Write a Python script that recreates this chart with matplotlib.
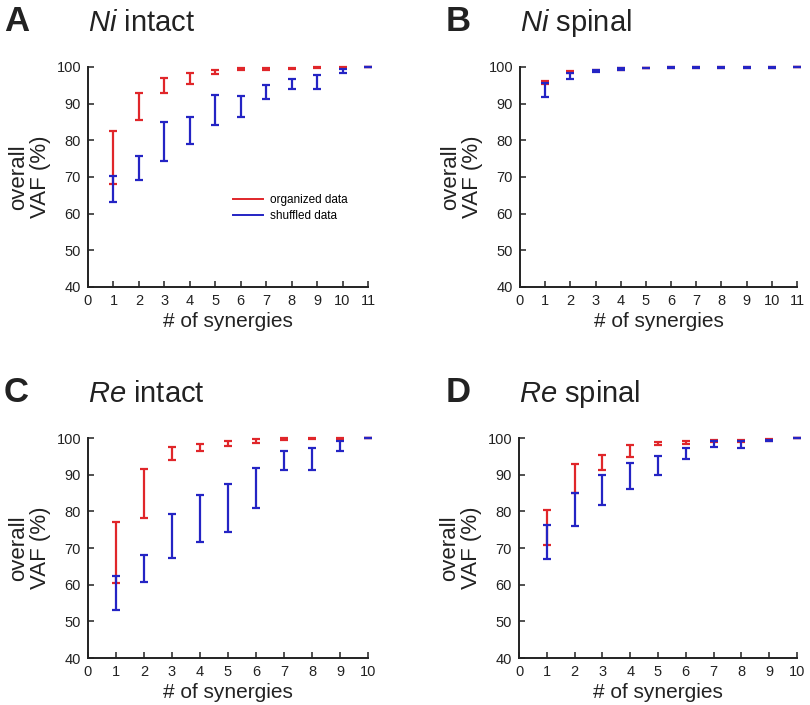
import matplotlib
matplotlib.use("Agg")
import matplotlib.pyplot as plt
from matplotlib.lines import Line2D
import numpy as np

plt.rcParams['font.family'] = ['Liberation Sans', 'DejaVu Sans']
plt.rcParams['mathtext.fontset'] = 'custom'
plt.rcParams['mathtext.rm'] = 'Liberation Sans'
plt.rcParams['mathtext.it'] = 'Liberation Sans:italic'

RED = '#e0262a'
BLUE = '#2424c4'

# ---- data: lower / upper bounds of VAF (%) per number of synergies ----
a_syn = [1, 2, 3, 4, 5, 6, 7, 8, 9, 10, 11]
a_org_lo = [68.2, 85.5, 93.0, 95.5, 98.0, 99.1, 99.3, 99.5, 99.6, 99.6, 100.0]
a_org_hi = [82.5, 92.9, 97.0, 98.4, 99.3, 99.6, 99.7, 99.8, 99.9, 99.9, 100.0]
a_shf_lo = [63.1, 69.3, 74.3, 79.1, 84.2, 86.4, 91.2, 94.0, 94.1, 98.5, 99.9]
a_shf_hi = [70.3, 75.8, 85.0, 86.5, 92.4, 92.1, 95.2, 96.6, 97.9, 99.5, 100.0]

b_syn = [1, 2, 3, 4, 5, 6, 7, 8, 9, 10, 11]
b_org_lo = [95.5, 98.3, 98.8, 99.2, 99.6, 99.7, 99.7, 99.7, 99.7, 99.7, 100.0]
b_org_hi = [96.1, 99.0, 99.3, 99.6, 99.8, 99.9, 99.9, 99.9, 99.9, 99.9, 100.0]
b_shf_lo = [91.9, 96.8, 98.7, 99.2, 99.6, 99.7, 99.8, 99.8, 99.8, 99.8, 100.0]
b_shf_hi = [95.6, 98.4, 99.3, 99.6, 99.8, 99.9, 99.9, 99.9, 99.9, 99.9, 100.0]

c_syn = [1, 2, 3, 4, 5, 6, 7, 8, 9, 10]
c_org_lo = [60.5, 78.3, 94.1, 96.5, 97.7, 98.6, 99.4, 99.8, 99.6, 100.0]
c_org_hi = [77.0, 91.5, 97.5, 98.5, 99.3, 99.7, 99.9, 100.0, 99.9, 100.0]
c_shf_lo = [53.0, 60.6, 67.4, 71.6, 74.4, 80.8, 91.2, 91.4, 96.5, 100.0]
c_shf_hi = [62.5, 68.0, 79.2, 84.5, 87.5, 91.7, 96.4, 97.3, 99.2, 100.0]

d_syn = [1, 2, 3, 4, 5, 6, 7, 8, 9, 10]
d_org_lo = [70.8, 85.1, 91.2, 94.9, 98.2, 98.4, 99.0, 98.9, 99.3, 100.0]
d_org_hi = [80.3, 92.9, 95.4, 98.0, 99.0, 99.2, 99.5, 99.4, 99.6, 100.0]
d_shf_lo = [67.0, 76.0, 81.6, 86.2, 90.0, 94.4, 97.6, 97.4, 99.1, 99.9]
d_shf_hi = [76.3, 85.0, 89.9, 93.3, 95.2, 97.3, 99.1, 99.1, 99.5, 100.0]

y_ticks = [40, 50, 60, 70, 80, 90, 100]
legend_labels = ['organized data', 'shuffled data']

panels = [
    ('A', r'$\mathit{Ni}$ intact', a_syn, a_org_lo, a_org_hi, a_shf_lo, a_shf_hi, 11, [88, 67, 280], 4),
    ('B', r'$\mathit{Ni}$ spinal', b_syn, b_org_lo, b_org_hi, b_shf_lo, b_shf_hi, 11, [520, 67, 277], 446),
    ('C', r'$\mathit{Re}$ intact', c_syn, c_org_lo, c_org_hi, c_shf_lo, c_shf_hi, 10, [88, 438, 280], 4),
    ('D', r'$\mathit{Re}$ spinal', d_syn, d_org_lo, d_org_hi, d_shf_lo, d_shf_hi, 10, [519, 438, 278], 446),
]

W, H = 810, 705
fig = plt.figure(figsize=(W / 100, H / 100), dpi=100)
AX_H = 220

def draw_bars(ax, x, lo, hi, color):
    lo = np.asarray(lo); hi = np.asarray(hi)
    mid = (lo + hi) / 2
    err = (hi - lo) / 2
    ax.errorbar(x, mid, yerr=err, fmt='none', ecolor=color, elinewidth=1.6,
                capsize=3.2, capthick=1.6, clip_on=False)

for letter, title, syn, olo, ohi, slo, shi, xmax, (px, py, pw), lx in panels:
    ax = fig.add_axes([px / W, 1 - (py + AX_H) / H, pw / W, AX_H / H])
    draw_bars(ax, syn, olo, ohi, RED)
    draw_bars(ax, syn, slo, shi, BLUE)
    ax.set_xlim(0, xmax)
    ax.set_ylim(40, 100)
    ax.set_xticks(range(0, xmax + 1))
    ax.set_yticks(y_ticks)
    for s in ['top', 'right']:
        ax.spines[s].set_visible(False)
    for s in ['left', 'bottom']:
        ax.spines[s].set_linewidth(1.4)
        ax.spines[s].set_color('#222222')
    ax.tick_params(direction='in', length=4, width=1.1, labelsize=10.5,
                   colors='#222222', pad=5)
    ax.set_xlabel('# of synergies', fontsize=15, labelpad=3, color='#222222')
    ax.set_ylabel('overall\nVAF (%)', fontsize=16, labelpad=4, color='#222222',
                  linespacing=1.05)
    fig.text(px / W, 1 - (py - 36) / H, title, fontsize=21, color='#222222',
             ha='left', va='baseline')
    fig.text(lx / W, 1 - (py - 36) / H, letter, fontsize=25, fontweight='bold',
             color='#222222', ha='left', va='baseline')
    if letter == 'A':
        handles = [Line2D([], [], color=RED, lw=1.4), Line2D([], [], color=BLUE, lw=1.4)]
        ax.legend(handles=handles, labels=legend_labels, frameon=False,
                  fontsize=8.5, loc='upper left', bbox_to_anchor=(0.5, 0.445),
                  handlelength=2.6, handletextpad=0.6, borderaxespad=0,
                  labelspacing=0.35)

fig.savefig('out.png', dpi=100)
